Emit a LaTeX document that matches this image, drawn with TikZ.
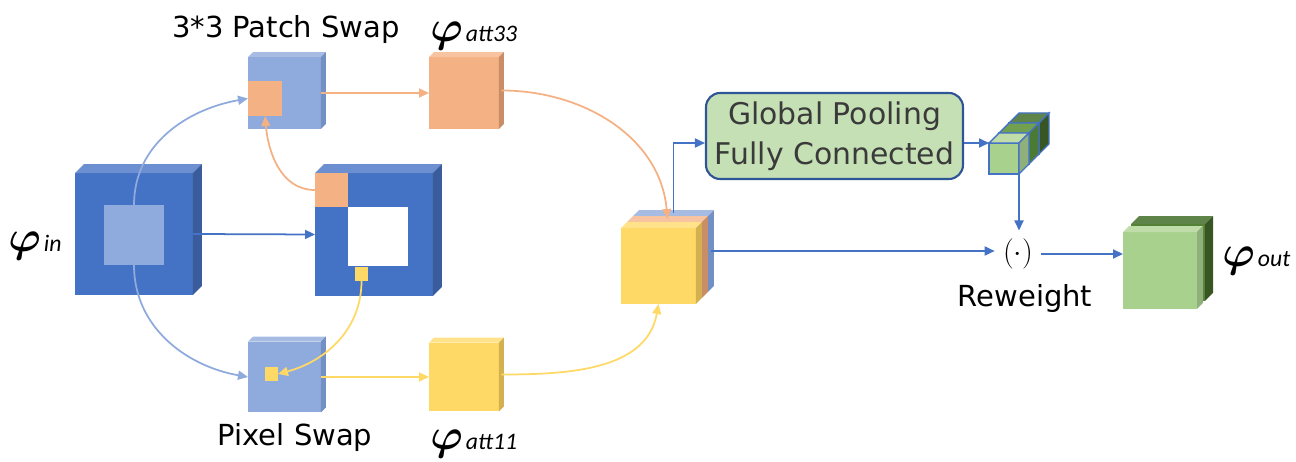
\documentclass[tikz,border=0pt]{standalone}
\usepackage{amsmath}
\usepackage{bm}
\usepackage{fontspec}
\setmainfont{DejaVu Sans}
\newfontfamily\subfont{Carlito}
\usepackage{tikz}
\usetikzlibrary{arrows.meta}
\usetikzlibrary{shapes,positioning,calc}

\definecolor{blueA}{HTML}{4472C4}
\definecolor{blueT}{HTML}{6B8FD1}
\definecolor{blueS}{HTML}{3A5C9C}
\definecolor{lblue}{HTML}{8FAADC}
\definecolor{lblueT}{HTML}{A6BCE3}
\definecolor{lblueS}{HTML}{7390C5}
\definecolor{orangeA}{HTML}{F4B183}
\definecolor{orangeT}{HTML}{F7C3A0}
\definecolor{orangeS}{HTML}{C98E66}
\definecolor{yellowA}{HTML}{FFD966}
\definecolor{yellowT}{HTML}{FFE28A}
\definecolor{yellowS}{HTML}{D4B150}
\definecolor{greenA}{HTML}{A9D18E}
\definecolor{greenT}{HTML}{C0DCA8}
\definecolor{greenS}{HTML}{8FB07A}
\definecolor{greenM}{HTML}{71A050}
\definecolor{greenMS}{HTML}{4A7A34}
\definecolor{greenD}{HTML}{548235}
\definecolor{greenDT}{HTML}{5E8449}
\definecolor{greenDS}{HTML}{375623}
\definecolor{boxfill}{HTML}{C5E0B4}
\definecolor{boxline}{HTML}{2F5597}
\definecolor{boxtext}{HTML}{3A3A3A}

\tikzset{cubeline/.style={}}

\newcommand{\cubedepth}[4]{%
  \path[fill=#3, cubeline] (#1.north west) -- ++(#2,-#2) -- ($(#1.north east)+(#2,-#2)$) -- (#1.north east) -- cycle;
  \path[fill=#4, cubeline] (#1.north east) -- ++(#2,-#2) -- ($(#1.south east)+(#2,-#2)$) -- (#1.south east) -- cycle;
  \coordinate (#1-top) at ($(#1.north)+(#2/2,-#2/2)$);
  \coordinate (#1-side) at ($(#1.east)+(#2/2,-#2/2)$);
}
\newcommand{\phisub}[1]{{\Huge$\bm{\varphi}$}\,{\subfont\fontsize{13.5}{16}\selectfont\itshape #1}}

\begin{document}
\begin{tikzpicture}[x=0.02cm, y=-0.02cm,
    box/.style={fill=#1, inner sep=0pt, outer sep=0pt, cubeline},
    link/.style={-{Triangle[length=2mm,width=1.8mm]}, line width=1pt},
    label/.style={font=\fontsize{16.5}{20}\selectfont, inner sep=0pt}]
\useasboundingbox (0,0) rectangle (1296,462);

\node[box=blueA, minimum width=2.36cm, minimum height=2.44cm] (in) at (134,234) {};
\cubedepth{in}{9}{blueT}{blueS}
\node[box=lblue, minimum width=1.2cm, minimum height=1.2cm] (insq) at (134,235) {};

\node[box=blueA, minimum width=2.36cm, minimum height=2.46cm] (mid) at (374,234.5) {};
\cubedepth{mid}{9}{blueT}{blueS}
\node[box=orangeA, minimum width=0.66cm, minimum height=0.68cm] (midor) at (331.5,190) {};
\node[box=white, minimum width=1.2cm, minimum height=1.18cm] (hole) at (378,236.5) {};
\node[box=yellowA, minimum width=0.26cm, minimum height=0.28cm] (midye) at (361.5,274) {};

\node[box=lblue, minimum width=1.46cm, minimum height=1.44cm] (ps) at (284.5,93) {};
\cubedepth{ps}{5}{lblueT}{lblueS}
\node[box=orangeA, minimum width=0.68cm, minimum height=0.7cm] (psor) at (265,98.5) {};

\node[box=lblue, minimum width=1.46cm, minimum height=1.42cm] (px) at (284.5,377) {};
\cubedepth{px}{5}{lblueT}{lblueS}
\node[box=yellowA, minimum width=0.26cm, minimum height=0.28cm] (pxye) at (271.5,374) {};

\node[box=orangeA, minimum width=1.4cm, minimum height=1.44cm] (a33) at (464,93) {};
\cubedepth{a33}{5}{orangeT}{orangeS}
\node[box=yellowA, minimum width=1.4cm, minimum height=1.38cm] (a11) at (464,377) {};
\cubedepth{a11}{5}{yellowT}{yellowS}

\node[box=lblue, minimum width=1.5cm, minimum height=1.52cm] (catB) at (670.5,254) {};
\cubedepth{catB}{6}{lblueT}{lblueS}
\node[box=orangeA, minimum width=1.5cm, minimum height=1.52cm] (catO) at (664.5,260) {};
\cubedepth{catO}{6}{orangeT}{orangeS}
\node[box=yellowA, minimum width=1.5cm, minimum height=1.52cm] (catY) at (658.5,266) {};
\cubedepth{catY}{6}{yellowT}{yellowS}

\node[draw=boxline, line width=1.2pt, fill=boxfill, rounded corners=0.28cm, minimum width=5.14cm, minimum height=1.72cm, align=center, text=boxtext, font=\fontsize{17}{22.8}\selectfont] (gp) at (834.5,136) {Global Pooling\\Fully Connected};

\begin{scope}[cubeline/.style={draw=blueA, line width=0.8pt}]
\node[box=greenD, minimum width=0.6cm, minimum height=0.62cm] (v3) at (1024,138.5) {};
\cubedepth{v3}{10}{greenDT}{greenDS}
\node[box=greenM, minimum width=0.6cm, minimum height=0.62cm] (v2) at (1014,148.5) {};
\cubedepth{v2}{10}{greenM}{greenMS}
\node[box=greenA, minimum width=0.6cm, minimum height=0.62cm] (v1) at (1004,158.5) {};
\cubedepth{v1}{10}{greenT}{greenS}
\end{scope}

\node[box=greenD, minimum width=1.48cm, minimum height=1.54cm] (oB) at (1168,262.5) {};
\cubedepth{oB}{8}{greenDT}{greenDS}
\node[box=greenA, minimum width=1.48cm, minimum height=1.54cm] (oF) at (1160,270.5) {};
\cubedepth{oF}{6}{greenT}{greenS}

\node[inner sep=0.16cm, font=\LARGE] (dot) at (1018,254) {$(\cdot)$};

\node[label, anchor=base] (pslabel) at (286,38) {3*3 Patch Swap};
\node[label, anchor=base] (pxlabel) at (295,446) {Pixel Swap};
\node[label, anchor=base] (rwlabel) at (1025,307) {Reweight};
\node[inner sep=0pt, anchor=base west] (phiin) at (8,252) {\phisub{in}};
\node[inner sep=0pt, anchor=base west] (phi33) at (430,42) {\phisub{att33}};
\node[inner sep=0pt, anchor=base west] (phi11) at (430,450) {\phisub{att11}};
\node[inner sep=0pt, anchor=base west] (phiout) at (1222,267) {\phisub{out}};

\draw[link, lblue] (insq.north) to[out=90, in=190] (psor.west);
\draw[link, lblue] (insq.south) to[out=-90, in=170] (px.west);
\draw[link, blueA] (in.east) -- (mid.west);
\draw[link, orangeA] (midor.west) to[out=180, in=-85] (psor.south);
\draw[link, yellowA] (midye.south) to[out=-90, in=15] (pxye.east);
\draw[link, orangeA] (ps.east) -- (a33.west);
\draw[link, yellowA] (px.east) -- (a11.west);
\draw[link, orangeA] (a33-side) to[out=0, in=95] (catO-top);
\draw[link, yellowA] (a11-side) to[out=0, in=-100] (catY.south);
\draw[link, blueA] (catB-top) |- (gp.west |- v1.north);
\draw[link, blueA] (gp.east |- v1.north west) -- (v1.north west);
\draw[link, blueA] (v1.south east) -- (v1.south east |- dot.north);
\draw[link, blueA] (catB-side) -- (catB-side -| dot.west);
\draw[link, blueA] (dot.east) -- (dot.east -| oF.west);
\end{tikzpicture}
\end{document}
